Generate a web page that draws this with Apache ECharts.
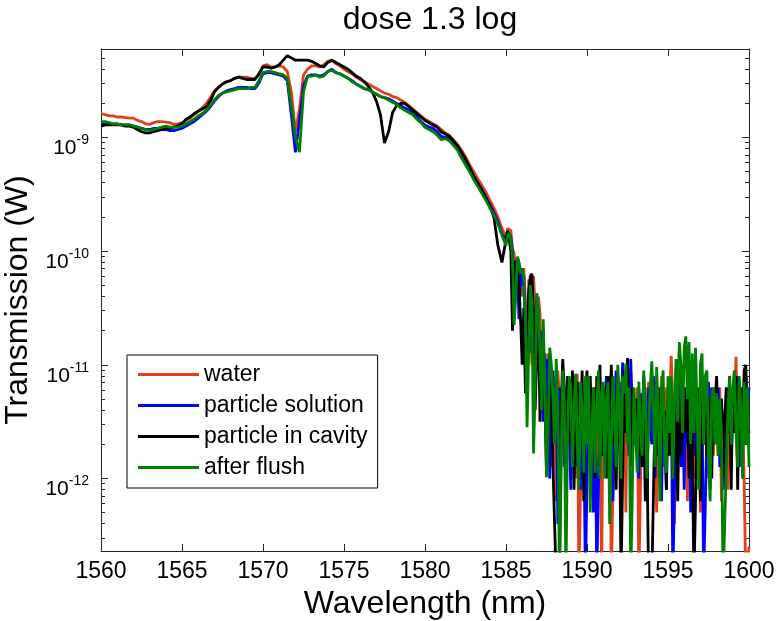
<!DOCTYPE html>
<html>
<head>
<meta charset="utf-8">
<script src="https://cdn.jsdelivr.net/npm/echarts@6/dist/echarts.min.js"></script>
<style>html,body{margin:0;padding:0;background:#fff}#chart{width:776px;height:621px}</style>
</head>
<body>
<div id="chart"></div>
<script>
// Sampling grid (nm): 0.25 nm steps 1560-1585, then 0.1 nm steps 1585.1-1600
const wavelength = [];
for (let i = 0; i <= 100; i++) wavelength.push(+(1560 + 0.25 * i).toFixed(2));
for (let i = 1; i <= 150; i++) wavelength.push(+(1585 + 0.1 * i).toFixed(2));

// Transmission, stored as log10(W)
const waterLog = [
 -8.79,-8.80,-8.81,-8.81,-8.82,-8.82,-8.825,-8.83,-8.83,-8.85,
 -8.86,-8.88,-8.885,-8.87,-8.86,-8.86,-8.865,-8.87,-8.885,-8.88,
 -8.87,-8.85,-8.83,-8.80,-8.77,-8.74,-8.70,-8.65,-8.59,-8.56,
 -8.53,-8.51,-8.50,-8.48,-8.47,-8.47,-8.47,-8.48,-8.48,-8.45,
 -8.37,-8.36,-8.38,-8.38,-8.37,-8.38,-8.42,-8.60,-8.95,-8.75,
 -8.45,-8.40,-8.37,-8.37,-8.38,-8.36,-8.33,-8.32,-8.35,-8.37,
 -8.40,-8.42,-8.44,-8.47,-8.49,-8.51,-8.53,-8.55,-8.57,-8.59,
 -8.61,-8.62,-8.64,-8.65,-8.67,-8.69,-8.72,-8.75,-8.78,-8.81,
 -8.84,-8.86,-8.88,-8.90,-8.93,-8.96,-8.98,-9.02,-9.06,-9.11,
 -9.17,-9.24,-9.30,-9.36,-9.42,-9.48,-9.55,-9.62,-9.70,-9.80,
 -9.88,
 -9.80,-9.79,-9.82,-9.98,-10.02,-10.30,-10.05,-10.10,-10.17,-10.40,
 -10.15,-10.45,-10.90,-10.25,-10.60,-11.00,-10.22,-10.50,-10.90,-10.40,
 -10.55,-11.10,-10.85,-11.40,-11.60,-10.90,-11.00,-11.90,-11.10,-11.40,
 -12.20,-11.05,-11.30,-11.80,-11.10,-11.60,-11.30,-11.20,-11.60,-11.90,
 -11.20,-11.50,-12.00,-11.08,-12.90,-12.90,-11.30,-11.60,-11.25,-11.50,
 -11.70,-11.20,-11.40,-12.00,-11.35,-11.20,-11.90,-11.10,-12.90,-11.20,
 -11.90,-11.15,-11.60,-11.30,-12.90,-12.90,-11.30,-11.70,-11.20,-11.50,
 -11.15,-11.60,-11.10,-12.30,-11.10,-11.50,-11.20,-11.80,-11.30,-11.60,
 -11.20,-12.90,-12.90,-11.30,-11.70,-11.20,-12.10,-11.15,-11.60,-11.30,
 -11.10,-11.50,-12.30,-11.20,-11.60,-11.10,-11.90,-11.40,-11.20,-11.70,
 -11.30,-10.92,-11.40,-12.40,-11.20,-11.60,-10.85,-11.40,-11.80,-11.20,
 -11.30,-12.20,-11.00,-11.60,-11.20,-12.00,-11.15,-11.50,-11.25,-12.30,
 -11.30,-11.70,-11.10,-11.50,-12.00,-11.20,-11.40,-11.80,-11.30,-11.10,
 -11.60,-11.20,-12.20,-11.40,-11.70,-11.30,-12.10,-11.50,-11.20,-11.60,
 -11.40,-10.93,-11.50,-11.20,-11.90,-11.40,-12.00,-12.90,-12.90,-12.60
];
const particleSolutionLog = [
 -8.87,-8.87,-8.88,-8.88,-8.88,-8.89,-8.89,-8.89,-8.90,-8.91,
 -8.92,-8.93,-8.93,-8.92,-8.92,-8.93,-8.93,-8.94,-8.94,-8.93,
 -8.92,-8.90,-8.88,-8.86,-8.83,-8.80,-8.77,-8.73,-8.68,-8.64,
 -8.61,-8.59,-8.58,-8.57,-8.56,-8.56,-8.56,-8.57,-8.57,-8.52,
 -8.44,-8.43,-8.43,-8.44,-8.45,-8.46,-8.50,-8.80,-9.13,-8.85,
 -8.55,-8.46,-8.45,-8.45,-8.46,-8.45,-8.42,-8.40,-8.43,-8.44,
 -8.46,-8.48,-8.50,-8.53,-8.55,-8.57,-8.58,-8.60,-8.62,-8.64,
 -8.65,-8.66,-8.68,-8.70,-8.72,-8.74,-8.76,-8.78,-8.82,-8.86,
 -8.89,-8.91,-8.92,-8.95,-8.99,-9.00,-9.01,-9.05,-9.09,-9.15,
 -9.21,-9.28,-9.34,-9.40,-9.46,-9.52,-9.59,-9.66,-9.74,-9.85,
 -9.90,
 -9.83,-9.85,-9.88,-10.00,-10.40,-10.08,-10.12,-10.60,-10.18,-10.30,
 -10.22,-10.70,-11.10,-10.35,-10.25,-10.90,-10.50,-11.20,-10.40,-10.60,
 -11.20,-10.70,-11.50,-10.90,-11.30,-10.95,-12.00,-11.20,-11.05,-11.70,
 -11.10,-12.40,-11.20,-11.60,-11.10,-11.90,-11.30,-11.15,-11.50,-12.10,
 -11.20,-11.60,-11.10,-11.90,-11.40,-12.10,-11.30,-11.50,-12.90,-12.90,
 -11.15,-11.50,-11.30,-12.30,-11.20,-12.90,-12.90,-11.40,-11.80,-11.30,
 -11.40,-11.10,-11.80,-11.20,-11.50,-12.20,-11.30,-11.05,-11.70,-11.20,
 -11.50,-10.98,-11.40,-11.60,-11.20,-11.80,-10.95,-11.40,-11.30,-11.60,
 -11.30,-12.00,-11.25,-11.60,-11.10,-11.90,-12.20,-11.20,-11.50,-11.70,
 -11.10,-12.00,-11.20,-11.70,-11.40,-12.20,-11.30,-11.60,-12.10,-11.30,
 -11.60,-11.20,-12.90,-12.90,-11.25,-11.60,-11.00,-11.90,-11.30,-12.10,
 -11.20,-11.70,-11.15,-12.30,-11.30,-11.80,-11.20,-11.60,-11.40,-12.00,
 -11.30,-12.90,-12.90,-11.60,-11.15,-12.10,-11.20,-11.70,-11.40,-11.60,
 -11.20,-11.90,-11.30,-11.60,-12.10,-11.20,-11.50,-11.15,-11.90,-11.30,
 -11.20,-11.60,-11.10,-11.90,-11.40,-11.20,-11.70,-11.10,-11.40,-11.20
];
const particleInCavityLog = [
 -8.90,-8.89,-8.89,-8.89,-8.89,-8.89,-8.90,-8.90,-8.91,-8.93,
 -8.95,-8.96,-8.96,-8.95,-8.94,-8.93,-8.92,-8.92,-8.91,-8.90,
 -8.88,-8.84,-8.82,-8.79,-8.77,-8.75,-8.73,-8.68,-8.60,-8.56,
 -8.53,-8.51,-8.50,-8.48,-8.47,-8.48,-8.49,-8.49,-8.49,-8.44,
 -8.38,-8.38,-8.39,-8.38,-8.36,-8.32,-8.28,-8.30,-8.32,-8.32,
 -8.32,-8.32,-8.33,-8.35,-8.37,-8.38,-8.34,-8.32,-8.34,-8.36,
 -8.38,-8.40,-8.43,-8.46,-8.48,-8.51,-8.55,-8.60,-8.68,-8.80,
 -9.05,-8.95,-8.78,-8.72,-8.70,-8.70,-8.73,-8.76,-8.79,-8.82,
 -8.85,-8.87,-8.89,-8.91,-8.95,-8.97,-8.99,-9.03,-9.07,-9.13,
 -9.19,-9.26,-9.34,-9.40,-9.46,-9.54,-9.60,-9.70,-9.95,-10.10,
 -9.90,
 -9.82,-9.90,-10.00,-10.70,-10.30,-10.10,-10.20,-10.30,-10.60,-11.00,
 -10.50,-11.25,-11.00,-10.40,-10.22,-10.20,-10.60,-11.40,-10.90,-10.60,
 -11.50,-11.00,-10.85,-11.30,-11.95,-11.60,-10.90,-11.20,-11.90,-12.40,
 -12.90,-12.90,-12.90,-11.40,-10.95,-11.20,-11.80,-11.10,-11.50,-11.70,
 -11.05,-12.10,-11.30,-11.15,-11.60,-11.50,-11.05,-12.20,-11.30,-11.05,
 -11.70,-11.10,-11.60,-11.20,-12.00,-11.10,-11.50,-11.00,-11.80,-11.30,
 -11.20,-12.00,-11.10,-11.50,-11.00,-11.70,-11.30,-12.10,-11.10,-11.40,
 -12.90,-12.90,-11.05,-11.60,-10.94,-11.40,-11.90,-11.20,-11.70,-11.30,
 -11.50,-11.80,-11.30,-11.90,-11.40,-12.20,-11.70,-12.90,-12.90,-12.90,
 -12.90,-11.40,-11.80,-11.20,-12.00,-11.25,-11.70,-11.40,-12.10,-11.30,
 -11.80,-11.30,-12.00,-11.50,-11.40,-12.20,-11.30,-11.80,-11.50,-11.20,
 -11.60,-11.30,-12.00,-11.40,-11.70,-12.90,-12.90,-11.50,-11.20,-12.20,
 -11.30,-11.70,-11.10,-11.80,-11.40,-11.30,-12.00,-11.20,-11.60,-11.10,
 -11.80,-11.40,-11.30,-12.00,-11.50,-11.20,-11.60,-11.10,-12.10,-11.20,
 -11.60,-11.10,-12.10,-11.30,-11.20,-11.60,-11.05,-11.00,-11.50,-11.60
];
const afterFlushLog = [
 -8.86,-8.86,-8.87,-8.88,-8.88,-8.89,-8.89,-8.89,-8.90,-8.91,
 -8.92,-8.93,-8.94,-8.93,-8.92,-8.91,-8.90,-8.91,-8.91,-8.91,
 -8.90,-8.88,-8.86,-8.84,-8.81,-8.79,-8.76,-8.72,-8.67,-8.63,
 -8.61,-8.60,-8.59,-8.58,-8.57,-8.57,-8.57,-8.56,-8.56,-8.50,
 -8.43,-8.42,-8.42,-8.43,-8.44,-8.45,-8.48,-8.72,-9.00,-9.13,
 -8.60,-8.46,-8.46,-8.45,-8.47,-8.46,-8.42,-8.41,-8.43,-8.44,
 -8.46,-8.48,-8.51,-8.53,-8.55,-8.57,-8.58,-8.60,-8.62,-8.64,
 -8.65,-8.67,-8.69,-8.71,-8.74,-8.76,-8.78,-8.80,-8.84,-8.87,
 -8.91,-8.93,-8.95,-8.98,-9.02,-9.01,-9.03,-9.07,-9.11,-9.18,
 -9.24,-9.30,-9.37,-9.43,-9.49,-9.55,-9.62,-9.68,-9.76,-9.86,
 -9.95,
 -9.86,-9.84,-9.90,-10.05,-10.65,-10.40,-10.05,-10.10,-10.20,-10.15,
 -10.25,-10.60,-11.55,-10.90,-10.30,-10.45,-11.78,-11.20,-10.37,-10.50,
 -10.90,-11.40,-10.60,-11.20,-11.99,-11.60,-10.85,-11.00,-11.30,-11.70,
 -10.95,-11.40,-12.90,-12.90,-11.05,-11.30,-12.90,-11.60,-11.10,-11.20,
 -11.90,-11.40,-11.08,-11.70,-12.10,-11.15,-11.40,-11.95,-11.10,-11.70,
 -11.10,-12.30,-11.60,-11.20,-11.95,-11.40,-11.05,-12.00,-11.25,-11.15,
 -12.00,-11.30,-11.15,-12.40,-11.70,-11.10,-11.50,-11.90,-11.00,-11.30,
 -12.00,-11.10,-11.25,-10.99,-11.70,-11.20,-12.90,-12.10,-11.20,-11.60,
 -11.95,-11.15,-11.50,-11.80,-11.05,-11.30,-12.00,-11.60,-11.20,-10.97,
 -11.40,-11.90,-11.02,-11.40,-12.20,-11.20,-11.05,-11.80,-11.95,-11.10,
 -11.60,-11.10,-12.00,-11.30,-10.95,-11.50,-10.80,-11.00,-11.60,-10.85,
 -10.75,-11.30,-10.80,-11.70,-10.90,-11.60,-10.85,-11.40,-12.10,-11.00,
 -10.90,-11.70,-11.10,-11.05,-11.80,-12.20,-11.30,-11.20,-11.70,-11.25,
 -11.80,-11.30,-11.60,-12.90,-12.90,-11.90,-11.40,-11.10,-11.70,-11.20,
 -11.05,-11.60,-11.90,-11.10,-11.40,-12.00,-11.15,-11.70,-11.20,-11.90
];

const seriesNames = ['water', 'particle solution', 'particle in cavity', 'after flush'];
const seriesColors = ['#e2401b', '#0000ff', '#000000', '#008000'];
const seriesLogs = [waterLog, particleSolutionLog, particleInCavityLog, afterFlushLog];

const xTicks = [1560, 1565, 1570, 1575, 1580, 1585, 1590, 1595, 1600];
const yMajorTicks = [1e-12, 1e-11, 1e-10, 1e-9];
const yMin = 2.3e-13, yMax = 6e-9;
const yMinorTicks = [];
for (let e = -13; e <= -9; e++) for (let k = 2; k <= 9; k++) {
  const v = k * Math.pow(10, e);
  if (v > yMin && v < yMax) yMinorTicks.push(v);
}

const FONT = 'Liberation Sans, Arial, Helvetica, sans-serif';
const AX = '#262626';

const chart = echarts.init(document.getElementById('chart'), null, {renderer: 'canvas'});

function yAxisBase(pos, ticks, len, showLabel) {
  return {
    type: 'log', position: pos, min: yMin, max: yMax, logBase: 10,
    axisLine: {show: true, lineStyle: {color: AX, width: 1}},
    axisTick: {show: true, inside: true, length: len, customValues: ticks, lineStyle: {color: AX}},
    axisLabel: showLabel ? {
      show: true, customValues: yMajorTicks, margin: 12,
      formatter: v => '{b|10}{s|' + Math.round(Math.log10(v)) + '}',
      rich: {
        b: {fontSize: 21, fontFamily: FONT, color: '#000', padding: [22, 0, 0, 0]},
        s: {fontSize: 14, fontFamily: FONT, color: '#000', padding: [6, 0, 0, 0]}
      }
    } : {show: false},
    splitLine: {show: false}
  };
}

const option = {
  animation: false,
  backgroundColor: '#fff',
  title: {
    text: 'dose 1.3 log', left: 425, top: -1, textAlign: 'center',
    textStyle: {fontSize: 32, fontWeight: 'normal', color: '#000', fontFamily: FONT}
  },
  grid: {left: 101, right: 27, top: 49, bottom: 70, outerBoundsMode: 'none', containLabel: false},
  legend: {
    left: 127, top: 355, orient: 'vertical',
    backgroundColor: '#fff', borderColor: '#000', borderWidth: 1, borderRadius: 0,
    padding: [8, 10, 9, 11], itemGap: 8, itemWidth: 61, itemHeight: 3, icon: 'rect',
    textStyle: {fontSize: 23, color: '#000', fontFamily: FONT},
    data: seriesNames
  },
  xAxis: [
    {
      type: 'value', position: 'bottom', min: 1560, max: 1600, interval: 5,
      name: 'Wavelength (nm)', nameLocation: 'middle', nameGap: 36,
      nameTextStyle: {fontSize: 32, color: '#000', fontFamily: FONT},
      axisLine: {lineStyle: {color: AX}},
      axisTick: {inside: true, length: 7, lineStyle: {color: AX}},
      axisLabel: {fontSize: 23, color: '#000', fontFamily: FONT, margin: 9, formatter: v => String(v)},
      splitLine: {show: false}
    },
    {
      type: 'value', position: 'top', min: 1560, max: 1600, interval: 5,
      axisLine: {lineStyle: {color: AX}},
      axisTick: {inside: true, length: 7, lineStyle: {color: AX}},
      axisLabel: {show: false},
      splitLine: {show: false}
    }
  ],
  yAxis: [
    Object.assign(yAxisBase('left', yMajorTicks, 7, true), {
      name: 'Transmission (W)', nameLocation: 'middle', nameGap: 63,
      nameTextStyle: {fontSize: 32, color: '#000', fontFamily: FONT}
    }),
    yAxisBase('left', yMinorTicks, 4, false),
    yAxisBase('right', yMajorTicks, 7, false),
    yAxisBase('right', yMinorTicks, 4, false)
  ],
  series: seriesLogs.map((logs, i) => ({
    name: seriesNames[i], type: 'line', xAxisIndex: 0, yAxisIndex: 0,
    showSymbol: false, symbol: 'none', clip: true,
    color: seriesColors[i],
    lineStyle: {width: 2.8, color: seriesColors[i]},
    data: logs.map((v, j) => [wavelength[j], Math.pow(10, v)])
  }))
};
chart.setOption(option);
</script>
</body>
</html>
